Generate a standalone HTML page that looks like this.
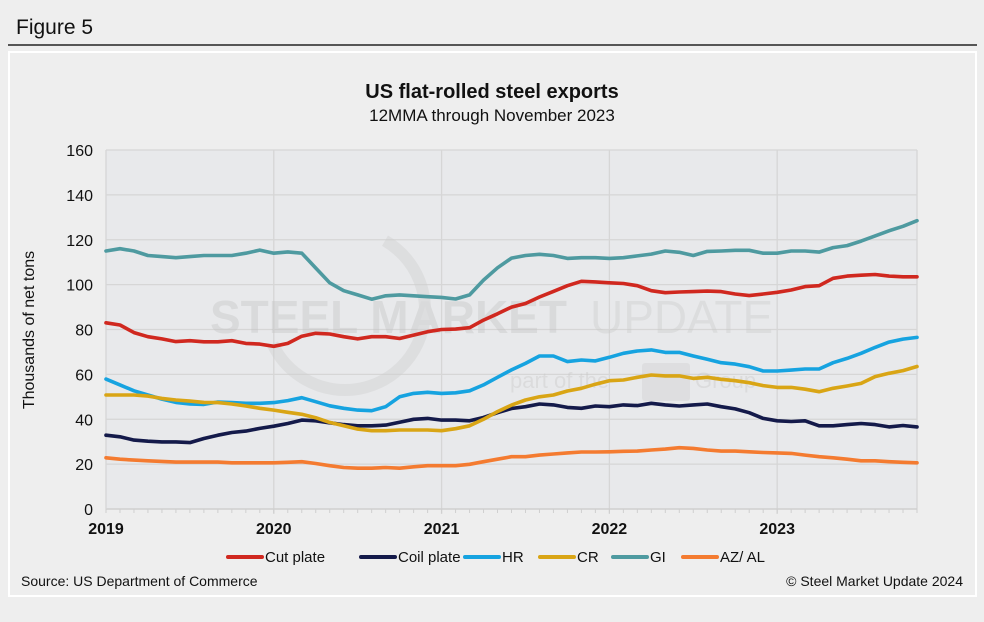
<!DOCTYPE html>
<html><head><meta charset="utf-8">
<style>
html,body{margin:0;padding:0;background:#eeeeee;}
body{width:984px;height:617px;overflow:hidden;font-family:"Liberation Sans",Arial,sans-serif;}
</style></head>
<body>
<svg id="chart" width="984" height="617" viewBox="0 0 984 617" xmlns="http://www.w3.org/2000/svg" font-family="Liberation Sans, Arial, sans-serif">
<rect x="0" y="0" width="984" height="617" fill="#eeeeee"/>
<text x="16" y="34" font-size="21" fill="#111">Figure 5</text>
<line x1="8" y1="45" x2="977" y2="45" stroke="#222" stroke-width="1.5"/>
<rect x="9" y="52" width="967" height="544" fill="#eeeeee" stroke="#ffffff" stroke-width="2"/>
<text x="492" y="98" font-size="20" font-weight="bold" text-anchor="middle" fill="#111">US flat-rolled steel exports</text>
<text x="492" y="121" font-size="17" text-anchor="middle" fill="#111">12MMA through November 2023</text>
<rect x="106" y="150" width="811" height="359" fill="#e8e9eb"/>
<g id="grid"></g>
<g id="watermark" opacity="0.4">
<circle cx="345" cy="310" r="80" fill="none" stroke="#cfcfcf" stroke-width="12" stroke-dasharray="300 203" transform="rotate(-60 345 310)"/>
<text x="210" y="333" font-size="46" font-weight="bold" fill="#c4c4c4">STEEL MARKET</text>
<text x="590" y="333" font-size="46" fill="#cccccc">UPDATE</text>
<text x="510" y="388" font-size="22" fill="#c8c8c8">part of the</text>
<rect x="642" y="363" width="48" height="38" rx="3" fill="#d0d0d0"/>
<text x="695" y="388" font-size="22" fill="#c8c8c8">Group</text>
</g>
<g id="axes"></g>
<g id="series"></g>
<text transform="translate(34 330) rotate(-90)" font-size="16" text-anchor="middle" fill="#111">Thousands of net tons</text>
<g id="legend"></g>
<text x="21" y="586" font-size="14" fill="#111">Source: US Department of Commerce</text>
<text x="963" y="586" font-size="14" text-anchor="end" fill="#111">© Steel Market Update 2024</text>
</svg>
<script>
const yearLabels = ["2019","2020","2021","2022","2023"];
const yTicks = [0,20,40,60,80,100,120,140,160];
const seriesNames = ["Cut plate","Coil plate","HR","CR","GI","AZ/ AL"];
const seriesColors = ["#d0281f","#141a4a","#16a3e0","#d9a515","#4e9aa0","#f47b30"];
const cutPlate = [83,82,78.6,76.8,75.8,74.6,75,74.5,74.5,75,73.8,73.5,72.5,73.8,77,78.3,78,76.8,75.8,76.8,76.8,76,77.5,79,80,80.2,80.8,84.2,87,90,91.6,94.5,97,99.5,101.5,101.2,100.8,100.5,99.5,97.3,96.4,96.7,96.9,97.1,96.9,95.8,95.1,95.8,96.6,97.6,99.1,99.5,102.8,103.8,104.2,104.5,103.8,103.5,103.5];
const coilPlate = [32.9,32.2,30.7,30.2,29.9,29.9,29.6,31.4,32.9,34.1,34.7,35.9,36.9,38.1,39.6,39.3,38.4,37.6,37.1,37.1,37.4,38.7,40,40.4,39.6,39.6,39.3,40.8,42.9,44.8,45.6,46.8,46.4,45.3,44.9,45.9,45.6,46.4,46.1,47.1,46.4,45.9,46.4,46.8,45.6,44.6,42.9,40.4,39.3,39,39.3,37.1,37.1,37.6,38.1,37.6,36.6,37.2,36.6];
const hr = [57.9,55.3,52.7,50.8,49,47.5,46.8,46.6,47.7,47.4,47.1,47.1,47.4,48.3,49.6,47.8,46,44.9,44.1,43.8,45.6,50,51.5,52,51.5,51.8,52.7,55.3,58.7,62,64.9,68.2,68.2,65.7,66.4,66,67.6,69.4,70.4,70.9,69.8,69.8,68.2,66.7,65.2,64.6,63.4,61.5,61.5,61.9,62.4,62.4,65.2,67.1,69.4,72,74.4,75.7,76.5];
const cr = [50.8,50.8,50.8,50.3,49.3,48.6,48.1,47.5,47.4,46.8,45.9,44.9,44.1,43.1,42.2,40.7,38.6,37.1,35.6,34.9,34.9,35.2,35.2,35.2,34.9,35.8,37.1,40,43.4,46.3,48.6,50,50.8,52.6,53.8,55.6,57.2,57.5,58.7,59.7,59.3,59.3,58.2,58.7,57.8,57.2,56.3,55,54.2,54.2,53.4,52.3,53.8,54.8,56,59,60.5,61.7,63.5];
const gi = [115,116,115,113,112.5,112,112.5,113,113,113,114,115.4,114,114.6,114,107.4,100.8,97.3,95.4,93.5,95,95.4,95,94.6,94.3,93.6,95.4,102,107.5,111.8,113,113.5,113,111.7,112,112,111.7,112,112.8,113.6,115,114.4,113,114.8,115,115.3,115.3,114,114,115,115,114.5,116.5,117.4,119.4,121.7,124,126,128.5];
const azAl = [22.8,22.2,21.8,21.5,21.2,20.9,20.9,20.9,20.9,20.6,20.6,20.6,20.6,20.8,21.1,20.3,19.3,18.5,18.2,18.2,18.5,18.2,18.8,19.3,19.3,19.3,19.9,21.1,22.2,23.3,23.3,24,24.5,25,25.4,25.4,25.5,25.7,25.8,26.3,26.7,27.3,27,26.3,25.8,25.8,25.5,25.2,25,24.8,24,23.3,22.8,22.2,21.5,21.5,21.1,20.8,20.6];
const allSeries = [cutPlate, coilPlate, hr, cr, gi, azAl];

const NS = "http://www.w3.org/2000/svg";
const X0 = 106, X1 = 917, Y0 = 509, Y1 = 150, YMAX = 160;
const nPts = cutPlate.length;
function xScale(i){ return X0 + (X1 - X0) * i / 58; }
function yScale(v){ return Y0 - (Y0 - Y1) * v / YMAX; }
function mk(tag, attrs, parent){ const e=document.createElementNS(NS,tag); for(const k in attrs) e.setAttribute(k,attrs[k]); parent.appendChild(e); return e; }

const grid = document.getElementById('grid');
const axes = document.getElementById('axes');
yTicks.forEach(t=>{
  const y=yScale(t);
  if(t>0){
    const l=mk('line',{x1:X0,x2:X1,y1:y,y2:y,stroke:'#d6d6d6','stroke-width':1.3},grid);
    
    
  }
  const tx=mk('text',{x:93,y:y+6,'font-size':16,'text-anchor':'end',fill:'#111'},axes);
  tx.textContent=t;
  
  
});
yearLabels.forEach((lab,k)=>{
  const x=xScale(k*12);
  if(k>0){
    const l=mk('line',{x1:x,x2:x,y1:Y1,y2:Y0+5,stroke:'#d6d6d6','stroke-width':1.3},grid);
    
    
  }
  const tx=mk('text',{x:x,y:534,'font-size':16,'font-weight':'bold','text-anchor':'middle',fill:'#111'},axes);
  tx.textContent=lab;
  
  
});
const lr=mk('line',{x1:X1,x2:X1,y1:Y1,y2:Y0,stroke:'#d6d6d6','stroke-width':1.3},grid);


const xa=mk('line',{x1:X0,x2:X1,y1:Y0,y2:Y0,stroke:'#cfcfcf','stroke-width':1.5},axes);


const ya=mk('line',{x1:X0,x2:X0,y1:Y1,y2:Y0,stroke:'#d6d6d6','stroke-width':1.3},axes);


for(let i=0;i<nPts;i++){
  const x=xScale(i);
  const tk=mk('line',{x1:x,x2:x,y1:Y0,y2:Y0+4,stroke:'#cfcfcf','stroke-width':1},axes);
  
  
}

const sg=document.getElementById('series');
allSeries.forEach((arr,s)=>{
  const d=arr.map((v,i)=>(i?'L':'M')+xScale(i).toFixed(1)+' '+yScale(v).toFixed(1)).join(' ');
  const p=mk('path',{d:d,fill:'none',stroke:seriesColors[s],'stroke-width':3.6,'stroke-linejoin':'round','stroke-linecap':'round'},sg);
  
  
});

const lg=document.getElementById('legend');
const legX=[228,361,465,540,613,683];
seriesNames.forEach((n,s)=>{
  const g=mk('g',{},lg);
  
  
  mk('line',{x1:legX[s],x2:legX[s]+34,y1:557,y2:557,stroke:seriesColors[s],'stroke-width':4,'stroke-linecap':'round'},g);
  const t=mk('text',{x:legX[s]+37,y:562,'font-size':15,fill:'#111'},g);
  t.textContent=n;
});
</script>
</body></html>
